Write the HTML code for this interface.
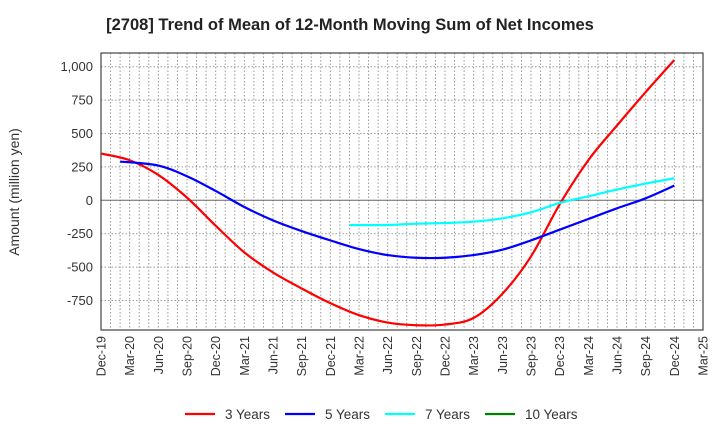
<!DOCTYPE html>
<html><head><meta charset="utf-8"><style>
body{margin:0;background:#fff;font-family:"Liberation Sans",sans-serif;}
svg text{font-family:"Liberation Sans",sans-serif;}
</style></head><body>
<svg id="chart" width="720" height="440" xmlns="http://www.w3.org/2000/svg">
<text x="350" y="30" text-anchor="middle" font-size="16.5" font-weight="bold" fill="#222">[2708]  Trend of Mean of 12-Month Moving Sum of Net Incomes</text>
<text transform="translate(19,192) rotate(-90)" text-anchor="middle" font-size="14" fill="#333">Amount (million yen)</text>
<g id="grid"></g><g id="axes"></g><g id="series"></g><g id="legend"></g>
</svg>
<script>
const xLabels=["Dec-19","Mar-20","Jun-20","Sep-20","Dec-20","Mar-21","Jun-21","Sep-21","Dec-21","Mar-22","Jun-22","Sep-22","Dec-22","Mar-23","Jun-23","Sep-23","Dec-23","Mar-24","Jun-24","Sep-24","Dec-24","Mar-25"];
const yTicks=[-750,-500,-250,0,250,500,750,1000];
const m3=[0,3,6,9,12,15,18,21,24,27,30,33,36,39,42,45,48,51,54,57,60];
const s3=[350,300,190,20,-190,-390,-540,-660,-770,-860,-915,-935,-930,-880,-700,-420,-30,300,560,810,1050];
const m5=[2,6,9,12,15,18,21,24,27,30,33,36,39,42,45,48,51,54,57,60];
const s5=[290,260,180,70,-50,-150,-230,-300,-365,-410,-430,-430,-410,-370,-300,-220,-140,-60,15,110];
const m7=[26,30,33,36,39,42,45,48,51,54,57,60];
const s7=[-185,-185,-175,-170,-160,-135,-90,-20,30,80,125,165];
const m10=[];
const s10=[];
const seriesNames=["3 Years","5 Years","7 Years","10 Years"];
const colors=["#ff0000","#0000ff","#00ffff","#008000"];
const L=101,R=703,T=53,B=330;
const X=m=>L+(R-L)*m/63;
const Y=v=>200.3-v*0.1336;
const NS="http://www.w3.org/2000/svg";
function mk(tag,attrs,parent){const e=document.createElementNS(NS,tag);for(const k in attrs)e.setAttribute(k,attrs[k]);parent.appendChild(e);return e;}
const grid=document.getElementById('grid'),axes=document.getElementById('axes'),ser=document.getElementById('series'),leg=document.getElementById('legend');
for(let m=1;m<63;m++){const l=mk('line',{x1:X(m),x2:X(m),y1:T,y2:B,stroke:'#999','stroke-dasharray':'1.5,2','stroke-width':1},grid);

}
for(let v=-750;v<=1000;v+=250){const l=mk('line',{x1:L,x2:R,y1:Y(v),y2:Y(v),stroke:v===0?'#666':'#999','stroke-dasharray':v===0?'':'1.5,2','stroke-width':1},grid);

}
const fr=mk('rect',{x:L,y:T,width:R-L,height:B-T,fill:'none',stroke:'#444','stroke-width':1.2},axes);


yTicks.forEach(v=>{const t=mk('text',{x:L-8,y:Y(v)+4.5,'text-anchor':'end','font-size':13,fill:'#333'},axes);t.textContent=v.toLocaleString('en-US');

});
xLabels.forEach((s,i)=>{const x=X(i*3);const t=mk('text',{transform:`translate(${x+4.5},${B+6}) rotate(-90)`,'text-anchor':'end','font-size':12.5,fill:'#333'},axes);t.textContent=s;

});
function path(ms,vals){const pts=[];vals.forEach((v,i)=>{if(v!=null)pts.push([X(ms[i]),Y(v)]);});if(pts.length<2)return '';
let d=`M${pts[0][0]},${pts[0][1]}`;for(let i=0;i<pts.length-1;i++){const p0=pts[i-1]||pts[i],p1=pts[i],p2=pts[i+1],p3=pts[i+2]||p2;
d+=` C${p1[0]+(p2[0]-p0[0])/6},${p1[1]+(p2[1]-p0[1])/6} ${p2[0]-(p3[0]-p1[0])/6},${p2[1]-(p3[1]-p1[1])/6} ${p2[0]},${p2[1]}`;}return d;}
[[m3,s3],[m5,s5],[m7,s7],[m10,s10]].forEach((s,i)=>{const d=path(s[0],s[1]);if(!d)return;const p=mk('path',{d:d,fill:'none',stroke:colors[i],'stroke-width':2.2},ser);

});
const lx=[185,285,385,485];
seriesNames.forEach((n,i)=>{const g=mk('g',{},leg);


mk('line',{x1:lx[i],x2:lx[i]+30,y1:414,y2:414,stroke:colors[i],'stroke-width':2.2},g);
const t=mk('text',{x:lx[i]+40,y:419,'font-size':13.5,fill:'#333'},g);t.textContent=n;});
</script>
</body></html>
